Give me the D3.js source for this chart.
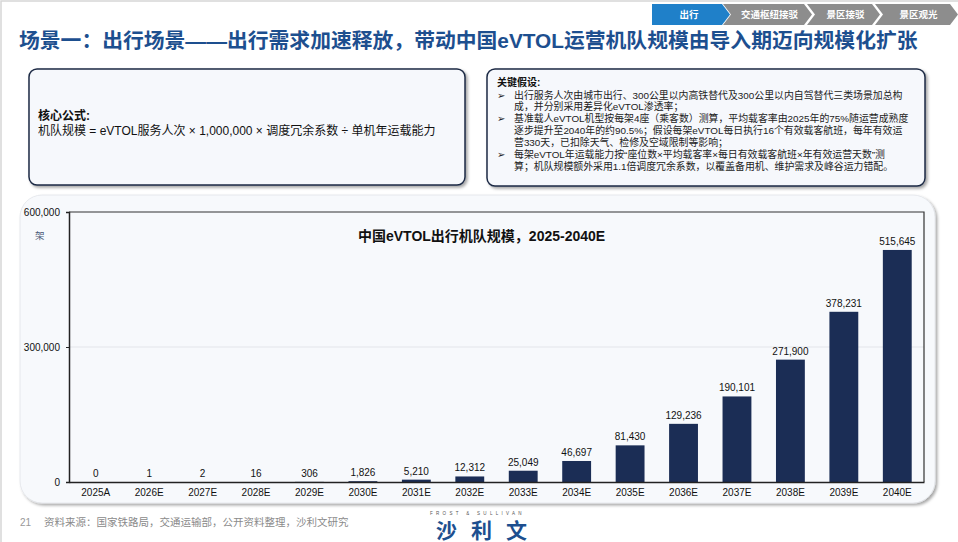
<!DOCTYPE html>
<html>
<head>
<meta charset="utf-8">
<script src="https://cdn.jsdelivr.net/npm/d3@7"></script>
<style>
 body { margin: 0; background: #fff; }
 svg text { font-family: "Liberation Sans", Arial, "Noto Sans CJK SC", sans-serif; }
</style>
</head>
<body>
<script>
// eVTOL fleet size slide - bar chart with header, two note boxes and footer

// chart data
var years = ["2025A", "2026E", "2027E", "2028E", "2029E", "2030E", "2031E", "2032E",
 "2033E", "2034E", "2035E", "2036E", "2037E", "2038E", "2039E", "2040E"];
var fleet = [0, 1, 2, 16, 306, 1826, 5210, 12312, 25049, 46697, 81430, 129236, 190101, 271900, 378231, 515645];
var yTicks = [0, 300000, 600000];

// header tabs
var tabNames = ["出行", "交通枢纽接驳", "景区接驳", "景区观光"];
var tabActive = 0;

var assumptionLines = [
 ["出行服务人次由城市出行、300公里以内高铁替代及300公里以内自驾替代三类场景加总构", true],
 ["成，并分别采用差异化eVTOL渗透率；", false],
 ["基准载人eVTOL机型按每架4座（乘客数）测算，平均载客率由2025年的75%随运营成熟度", true],
 ["逐步提升至2040年的约90.5%；假设每架eVTOL每日执行16个有效载客航班，每年有效运", false],
 ["营330天，已扣除天气、检修及空域限制等影响；", false],
 ["每架eVTOL年运载能力按“座位数×平均载客率×每日有效载客航班×年有效运营天数”测", true],
 ["算；机队规模额外采用1.1倍调度冗余系数，以覆盖备用机、维护需求及峰谷运力错配。", false]
];

var W = 958, H = 542;
var navy = "#1b2d55";
var titleBlue = "#1d4f8f";

var svg = d3.select("body").append("svg")
 .attr("width", W)
 .attr("height", H);

var defs = svg.append("defs");
var shadow = defs.append("filter").attr("id", "shadow")
 .attr("x", "-5%").attr("y", "-5%").attr("width", "112%").attr("height", "120%");
shadow.append("feDropShadow")
 .attr("dx", 2).attr("dy", 2).attr("stdDeviation", 1.6)
 .attr("flood-color", "#000").attr("flood-opacity", 0.35);

// page frame
svg.append("rect").attr("x", 1).attr("y", 1).attr("width", W).attr("height", H)
 .attr("fill", "none").attr("stroke", "#d6d6d6").attr("stroke-width", 1.5);

// tabs (chevrons)
var tabX = [652, 723, 807, 875];
var tabEnd = [730, 812, 880, 958];
tabNames.forEach(function (name, i) {
 var x0 = tabX[i], x1 = tabEnd[i], y0 = 4, y1 = 25, tip = 8;
 var notch = i == 0 ? 0 : tip;
 var pts = [[x0, y0], [x1 - tip, y0], [x1, (y0 + y1) / 2], [x1 - tip, y1], [x0, y1], [x0 + notch, (y0 + y1) / 2]];
 svg.append("polygon")
  .attr("points", pts.map(function (p) { return p.join(","); }).join(" "))
  .attr("fill", i == tabActive ? "#1f80c9" : "#8d8d8d");
 svg.append("text")
  .attr("x", (x0 + x1 - tip + notch) / 2 + 2)
  .attr("y", 18)
  .attr("text-anchor", "middle")
  .attr("font-size", 9.5)
  .attr("font-weight", "bold")
  .attr("fill", "#fff")
  .text(name);
});

// slide title
svg.append("text")
 .attr("x", 19).attr("y", 48)
 .attr("font-size", 20.8)
 .attr("font-weight", "bold")
 .attr("fill", titleBlue)
 .text("场景一：出行场景——出行需求加速释放，带动中国eVTOL运营机队规模由导入期迈向规模化扩张");

// formula box
svg.append("rect")
 .attr("x", 29).attr("y", 69).attr("width", 436).attr("height", 116).attr("rx", 8)
 .attr("fill", "#f6f8fc").attr("stroke", "#1c2a44").attr("stroke-width", 1.5)
 .attr("filter", "url(#shadow)");
svg.append("text").attr("x", 38).attr("y", 120)
 .attr("font-size", 12).attr("font-weight", "bold").attr("fill", "#111")
 .text("核心公式:");
svg.append("text").attr("x", 38).attr("y", 135)
 .attr("font-size", 12).attr("fill", "#111")
 .text("机队规模 = eVTOL服务人次 × 1,000,000 × 调度冗余系数 ÷ 单机年运载能力");

// assumptions box
svg.append("rect")
 .attr("x", 487).attr("y", 69).attr("width", 438).attr("height", 117).attr("rx", 8)
 .attr("fill", "#f6f8fc").attr("stroke", "#1c2a44").attr("stroke-width", 1.5)
 .attr("filter", "url(#shadow)");
svg.append("text").attr("x", 497).attr("y", 86)
 .attr("font-size", 10).attr("font-weight", "bold").attr("fill", "#111")
 .text("关键假设:");
assumptionLines.forEach(function (d, i) {
 var y = 98.5 + i * 11.9;
 if (d[1]) {
  svg.append("text").attr("x", 497).attr("y", y)
   .attr("font-size", 10).attr("fill", "#222").text("➢");
 }
 svg.append("text").attr("x", 514).attr("y", y)
  .attr("font-size", 9.9).attr("fill", "#222").text(d[0]);
});

// chart panel
svg.append("rect")
 .attr("x", 20).attr("y", 195).attr("width", 915).attr("height", 308).attr("rx", 22)
 .attr("fill", "#f7f9fc").attr("stroke", "#e2e5ea").attr("stroke-width", 0.8)
 .attr("filter", "url(#shadow)");

var plot = { left: 69, right: 924, top: 212, bottom: 482 };

var x = d3.scaleBand()
 .domain(years)
 .range([plot.left, plot.right])
 .paddingInner(0.46)
 .paddingOuter(0.23);

var y = d3.scaleLinear()
 .domain([0, 600000])
 .range([plot.bottom, plot.top]);

// grid line at middle tick
svg.append("g").selectAll("line")
 .data(yTicks.filter(function (t) { return t > 0 && t < 600000; }))
 .enter().append("line")
 .attr("x1", plot.left).attr("x2", plot.right)
 .attr("y1", function (d) { return y(d); })
 .attr("y2", function (d) { return y(d); })
 .attr("stroke", "#e3e5e9").attr("stroke-width", 1.2);

// bars
svg.append("g").selectAll("rect")
 .data(fleet)
 .enter().append("rect")
 .attr("x", function (d, i) { return x(years[i]); })
 .attr("y", function (d) { return y(d); })
 .attr("width", x.bandwidth())
 .attr("height", function (d) { return plot.bottom - y(d); })
 .attr("fill", navy);

// value labels
svg.append("g").selectAll("text")
 .data(fleet)
 .enter().append("text")
 .attr("x", function (d, i) { return x(years[i]) + x.bandwidth() / 2; })
 .attr("y", function (d) { return y(d) - 5; })
 .attr("text-anchor", "middle")
 .attr("font-size", 10)
 .attr("fill", "#111")
 .text(function (d) { return d3.format(",")(d); });

// y axis
var yAxis = svg.append("g")
 .attr("transform", "translate(" + plot.left + ",0)")
 .call(d3.axisLeft(y).tickValues(yTicks).tickSize(3).tickPadding(6).tickFormat(d3.format(",")));
yAxis.select(".domain").attr("stroke", "#222").attr("stroke-width", 1.5);
yAxis.selectAll(".tick line").attr("stroke", "#222");
yAxis.selectAll("text").attr("font-size", 10).attr("fill", "#111")
 .attr("font-family", "\"Liberation Sans\", Arial, sans-serif");

// x axis
var xAxis = svg.append("g")
 .attr("transform", "translate(0," + plot.bottom + ")")
 .call(d3.axisBottom(x).tickSize(0).tickPadding(7));
xAxis.select(".domain").attr("stroke", "#222").attr("stroke-width", 1.5);
xAxis.selectAll("text").attr("font-size", 10).attr("fill", "#111")
 .attr("font-family", "\"Liberation Sans\", Arial, sans-serif");

// top and right frame lines
svg.append("path")
 .attr("d", "M" + plot.left + "," + plot.top + "H" + plot.right + "V" + plot.bottom)
 .attr("fill", "none").attr("stroke", "#333").attr("stroke-width", 1.2);

// unit
svg.append("text").attr("x", 35).attr("y", 239)
 .attr("font-size", 9.5).attr("fill", "#4a5a78").text("架");

// chart title
svg.append("text").attr("x", 358).attr("y", 241)
 .attr("font-size", 14).attr("font-weight", "bold").attr("fill", "#111")
 .text("中国eVTOL出行机队规模，2025-2040E");

// footer
svg.append("text").attr("x", 20).attr("y", 526)
 .attr("font-size", 10).attr("fill", "#999").text("21");
svg.append("text").attr("x", 44).attr("y", 526)
 .attr("font-size", 10.5).attr("fill", "#8a8a8a")
 .text("资料来源：国家铁路局，交通运输部，公开资料整理，沙利文研究");

// logo
svg.append("text").attr("x", 430).attr("y", 515)
 .attr("font-size", 4.5).attr("letter-spacing", 3.3).attr("fill", "#555")
 .attr("font-family", "\"DejaVu Serif\", serif")
 .text("FROST & SULLIVAN");
svg.append("text").attr("x", 436).attr("y", 538)
 .attr("font-size", 21).attr("font-weight", "bold").attr("letter-spacing", 14)
 .attr("fill", titleBlue)
 .text("沙利文");
</script>
</body>
</html>
